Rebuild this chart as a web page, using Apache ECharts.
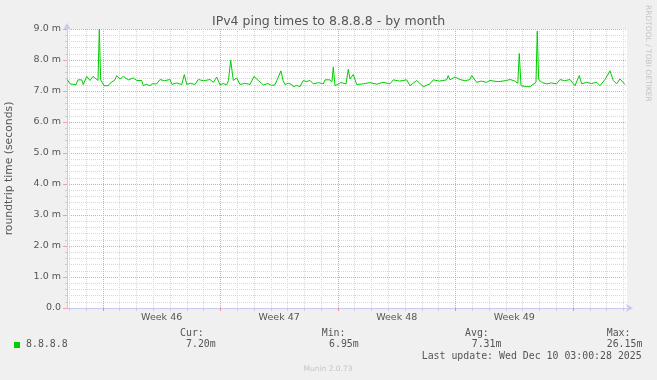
<!DOCTYPE html>
<html><head><meta charset="utf-8">
<script src="https://cdn.jsdelivr.net/npm/echarts@6/dist/echarts.min.js"></script>
<style>html,body{margin:0;padding:0;background:#f0f0f0}#c{width:657px;height:380px}</style>
</head><body><div id="c"></div>
<script>
// time in hours (relative), values in milliseconds
const tMin = 20.7, tMax = 821.2;
const times = [21.1,25.0,27.8,33.6,36.4,41.7,44.0,48.9,53.6,57.9,60.7,65.0,66.9,68.8,73.6,79.7,82.2,89.3,91.7,96.5,101.2,108.3,115.5,120.3,127.5,129.8,134.0,139.3,142.2,148.9,153.6,160.0,167.9,170.8,177.0,184.7,188.4,191.8,197.0,203.7,208.4,216.0,225.1,229.8,234.7,239.4,244.0,249.0,251.5,254.7,258.4,263.3,268.0,275.0,282.3,288.0,294.2,301.3,308.0,313.0,318.0,326.6,329.5,332.3,337.0,341.9,344.2,349.0,353.8,358.5,363.0,368.1,372.8,380.0,387.1,389.5,396.6,399.5,401.3,403.8,406.6,412.0,419.5,422.8,425.2,429.9,434.8,444.2,453.8,463.8,472.4,482.4,487.1,496.0,506.3,511.0,520.6,530.0,539.6,544.3,553.0,563.4,565.7,568.1,575.3,582.4,590.0,596.7,599.2,606.3,613.0,620.6,625.3,637.0,649.2,653.9,660.0,665.1,667.2,669.7,677.8,682.5,691.1,692.9,694.9,700.0,706.4,713.0,720.7,725.4,732.0,739.7,746.8,753.0,756.4,763.6,770.0,777.9,782.6,789.7,796.9,801.6,806.4,811.1,818.3];
const values = [7.37,7.23,7.20,7.20,7.36,7.36,7.21,7.47,7.34,7.47,7.42,7.34,8.99,7.36,7.17,7.17,7.25,7.36,7.50,7.39,7.47,7.36,7.42,7.34,7.34,7.17,7.22,7.17,7.23,7.23,7.37,7.33,7.37,7.21,7.26,7.21,7.53,7.21,7.25,7.21,7.37,7.33,7.37,7.28,7.45,7.20,7.24,7.20,7.34,7.99,7.34,7.42,7.21,7.25,7.21,7.47,7.34,7.20,7.24,7.18,7.20,7.65,7.34,7.21,7.25,7.21,7.14,7.18,7.14,7.34,7.30,7.34,7.23,7.27,7.23,7.36,7.36,7.30,7.77,7.17,7.23,7.27,7.23,7.70,7.39,7.53,7.21,7.23,7.27,7.22,7.28,7.23,7.36,7.32,7.36,7.17,7.34,7.14,7.23,7.36,7.32,7.36,7.50,7.36,7.45,7.37,7.33,7.37,7.50,7.28,7.32,7.28,7.34,7.30,7.34,7.37,7.33,7.25,8.21,7.17,7.14,7.14,7.28,8.93,7.37,7.27,7.23,7.26,7.23,7.37,7.33,7.37,7.17,7.50,7.23,7.28,7.24,7.28,7.17,7.37,7.65,7.34,7.23,7.39,7.21];
const dayTicks = [24,48,72,96,120,144,168,192,216,240,264,288,312,336,360,384,408,432,456,480,504,528,552,576,600,624,648,672,696,720,744,768,792,816];
const weekTicks = [72,240,408,576,744];
const weekLabelPos = [156,324,492,660];
const weekLabels = ['Week 46','Week 47','Week 48','Week 49'];
const seriesName = '8.8.8.8';
const statHeads = ['Cur:','Min:','Avg:','Max:'];
const statVals = ['7.20m','6.95m','7.31m','26.15m'];
const lastUpdate = 'Last update: Wed Dec 10 03:00:28 2025';

const data = times.map((t,i)=>[t, values[i]]);
const plainDays = dayTicks.filter(v=>weekTicks.indexOf(v)<0);
const mono = '9.9px "DejaVu Sans Mono"';
const txtCol = '#555';
const greyGrid = '#d8d8d8', redGrid = '#f3a0a0';
const headX = [180, 321.7, 465, 606.7];
const valX = [186, 329, 471.7, 606.7];
const graphics = [];
statHeads.forEach((s,i)=>graphics.push({type:'text', x:headX[i], y:333, style:{text:s, font:mono, fill:txtCol, verticalAlign:'middle'}}));
statVals.forEach((s,i)=>graphics.push({type:'text', x:valX[i], y:344.5, style:{text:s, font:mono, fill:txtCol, verticalAlign:'middle'}}));
graphics.push({type:'rect', shape:{x:14, y:342, width:6, height:6}, style:{fill:'#00cc00'}});
graphics.push({type:'text', x:26, y:344.5, style:{text:seriesName, font:mono, fill:txtCol, verticalAlign:'middle'}});
graphics.push({type:'text', x:421.7, y:356.5, style:{text:lastUpdate, font:mono, fill:txtCol, verticalAlign:'middle'}});
graphics.push({type:'text', x:328, y:369, style:{text:'Munin 2.0.73', font:'7.5px "DejaVu Sans"', fill:'#c4c4c4', align:'center', verticalAlign:'middle'}});
graphics.push({type:'text', x:648, y:5, rotation:-Math.PI/2, style:{text:'RRDTOOL / TOBI OETIKER', font:'7.5px "DejaVu Sans"', fill:'#c4c4c4', align:'left', verticalAlign:'middle'}});

const chart = echarts.init(document.getElementById('c'), null, {renderer:'canvas'});
chart.setOption({
  backgroundColor:'#f0f0f0',
  animation:false,
  title:{text:'IPv4 ping times to 8.8.8.8 - by month', left:'center', top:10,
    textStyle:{fontFamily:'DejaVu Sans', fontSize:12.5, fontWeight:'normal', color:txtCol}},
  grid:{left:67, right:30, top:29, bottom:72, show:true, backgroundColor:'#ffffff', borderWidth:0, outerBoundsMode:'none', containLabel:false},
  xAxis:[
    {type:'value', min:tMin, max:tMax,
     axisLine:{show:true, lineStyle:{color:'#c8c8f0'}, symbol:['none','arrow'], symbolSize:[6,7], symbolOffset:[0,6]},
     axisTick:{show:true, customValues:plainDays, length:3, lineStyle:{color:'#cccccc'}},
     axisLabel:{show:false},
     splitLine:{show:true, lineStyle:{color:greyGrid, type:[1,1]}}},
    {type:'value', min:tMin, max:tMax, position:'bottom',
     axisLine:{show:false},
     axisTick:{show:true, customValues:weekTicks, length:3, lineStyle:{color:'#f09090'}},
     axisLabel:{show:true, customValues:weekLabelPos, formatter:v=>weekLabels[weekLabelPos.indexOf(v)],
       fontFamily:'DejaVu Sans', fontSize:9.5, color:txtCol, margin:5},
     splitLine:{show:true, lineStyle:{color:redGrid, type:[1,1]}}}
  ],
  yAxis:{type:'value', min:0, max:9, interval:1,
    axisLine:{show:true, lineStyle:{color:'#c8c8f0'}, symbol:['none','arrow'], symbolSize:[6,7], symbolOffset:[0,6]},
    axisTick:{show:true, length:4, lineStyle:{color:'#f0a0a0'}},
    minorTick:{show:true, splitNumber:5, length:2, lineStyle:{color:'#cccccc'}},
    axisLabel:{formatter:v=> v===0 ? '0.0' : v.toFixed(1)+' m', fontFamily:'DejaVu Sans', fontSize:9.5, color:txtCol, margin:6},
    splitLine:{show:true, lineStyle:{color:redGrid, type:[1,1]}},
    minorSplitLine:{show:true, lineStyle:{color:greyGrid, type:[1,1]}},
    name:'roundtrip time (seconds)', nameLocation:'middle', nameGap:52,
    nameTextStyle:{fontFamily:'DejaVu Sans', fontSize:10.8, color:txtCol}},
  series:[
    {type:'line', data:data, showSymbol:false, xAxisIndex:0, z:5,
    lineStyle:{color:'#00cc00', width:1}}],
  graphic:graphics
});
</script></body></html>
